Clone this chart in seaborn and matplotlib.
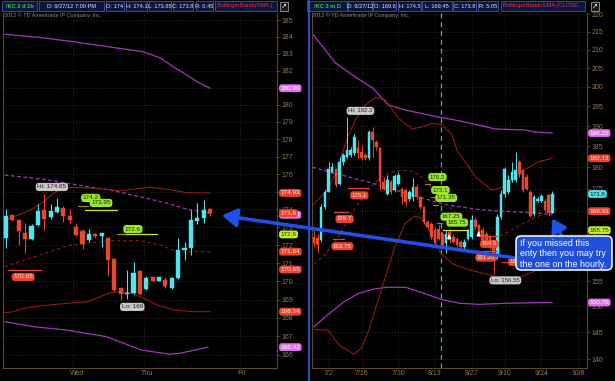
import matplotlib
matplotlib.use("Agg")
import matplotlib.pyplot as plt
import matplotlib.ticker as mticker
from matplotlib.patches import Rectangle, FancyBboxPatch, FancyArrowPatch
from matplotlib.lines import Line2D
from matplotlib.transforms import blended_transform_factory, offset_copy
import numpy as np
import pandas as pd
import seaborn as sns

# ======================= DATA =======================
# ---- hourly panel (/KC 2 d 1h) ----
h_open  = [172.42, 173.67, 173.41, 172.66, 172.32, 173.11, 173.96, 173.59, 173.85, 174.06, 173.63,
           173.03, 172.79, 172.27, 172.60, 172.51, 172.38, 171.24, 169.64, 169.28, 169.34, 170.55,
           169.58, 170.23, 170.03, 170.08, 169.62, 170.18, 171.76, 171.82, 173.35, 173.50, 174.00]
h_high  = [174.00, 173.75, 173.48, 173.22, 173.16, 174.30, 174.85, 174.28, 174.65, 174.19, 174.00,
           173.26, 172.92, 172.92, 172.70, 172.66, 172.45, 171.24, 169.71, 170.60, 171.06, 170.60,
           170.27, 170.31, 170.23, 170.23, 170.23, 172.42, 172.17, 173.95, 174.37, 174.52, 174.10]
h_low   = [171.86, 173.35, 171.99, 171.58, 172.28, 173.07, 172.85, 173.44, 173.81, 173.29, 173.26,
           172.51, 171.80, 172.17, 172.42, 171.91, 170.31, 169.49, 169.00, 169.05, 169.30, 169.25,
           169.53, 169.97, 170.00, 169.62, 169.58, 170.12, 171.20, 171.48, 173.16, 173.26, 173.65]
h_close = [173.63, 173.41, 172.79, 172.32, 173.07, 173.89, 173.44, 173.89, 174.13, 173.63, 173.41,
           172.55, 172.04, 172.60, 172.51, 172.66, 171.17, 169.53, 169.28, 169.34, 170.46, 169.28,
           170.18, 170.03, 170.23, 169.77, 170.18, 171.76, 171.86, 173.39, 173.52, 173.95, 173.80]
h_day_labels = ["Wed", "Thu", "Fri"]
h_day_pos = [11.1, 22.1, 37.0]
h_grid_pos = [10.5, 21.6, 36.7]
h_yticks = list(range(166, 186))

h_up_x  = [-0.2, 1.15, 2.7, 4.3, 5.9, 7.4, 8.7, 10.6, 13.7, 15.8, 17.9, 20.0, 22.6, 25.2, 28.4, 32.0]
h_up_y  = [173.41, 173.59, 173.78, 174.07, 174.44, 174.91, 175.16, 175.25, 175.20, 175.14, 175.05,
           175.16, 175.25, 175.14, 174.95, 174.93]
h_mid_x = [-0.2, 2.2, 4.3, 6.9, 9.5, 12.7, 16.3, 21.0, 24.2, 26.8, 32.0]
h_mid_y = [170.80, 171.09, 171.33, 171.64, 171.96, 172.11, 172.24, 172.26, 172.01, 171.64, 171.64]
h_low_x = [-0.2, 1.15, 2.7, 6.9, 11.1, 12.9, 14.8, 16.3, 17.9, 20.0, 21.6, 23.7, 26.3, 29.4, 32.0]
h_low_y = [168.28, 168.34, 168.53, 168.71, 168.84, 168.89, 169.16, 169.38, 169.43, 169.31, 169.07,
           168.71, 168.43, 168.34, 168.34]
h_pu_x  = [-0.2, 5.3, 10.5, 16.3, 21.5, 24.2, 26.2, 28.1, 30.0, 32.0]
h_pu_y  = [184.15, 183.96, 183.71, 183.39, 183.11, 182.74, 182.23, 181.80, 181.34, 180.96]
h_pm_x  = [-0.2, 5.8, 9.6, 16.8, 21.0, 25.3, 28.4, 32.0]
h_pm_y  = [175.95, 175.71, 175.48, 175.06, 174.72, 174.35, 174.01, 173.79]
h_pl_x  = [-0.2, 4.2, 9.3, 15.7, 21.2, 25.6, 27.3, 31.7]
h_pl_y  = [167.80, 167.53, 167.35, 166.99, 166.27, 166.04, 166.09, 166.42]

h_lvl_price = [170.65, 174.2, 173.95, 172.6, 172.6]
h_lvl_x0    = [0.3, 11.3, 12.4, 18.0, 17.4]
h_lvl_x1    = [5.5, 12.9, 17.4, 23.7, 18.7]
h_lvl_kind  = ["red", "olive", "yellow", "yellow", "olive"]

h_bub_text  = ["Hi: 174.85", "174.2", "173.95", "172.6", "170.65", "Lo: 169"]
h_bub_x     = [7.2, 13.3, 14.9, 19.9, 2.7, 19.8]
h_bub_y     = [175.27, 174.65, 174.37, 172.9, 170.24, 168.6]
h_bub_kind  = ["gray", "green", "green", "green", "red", "gray"]

h_tag_text  = ["180.96", "174.93", "173.79", "173.8", "172.6", "171.64", "170.65", "168.34", "166.42"]
h_tag_price = [180.96, 174.93, 173.70, 173.8, 172.6, 171.64, 170.65, 168.34, 166.42]
h_tag_kind  = ["pink", "red", "pink", "red", "lime", "red", "red", "red", "pink"]

# ---- daily panel (/KC 3 m D) ----
d_first = -4
d_open  = [164.3, 164.0, 163.6, 170.8, 174.2, 179.0, 179.7, 176.2, 181.3, 182.5, 182.9, 183.3, 184.5,
           183.7, 182.9, 182.1, 188.5, 186.1, 184.5, 176.6, 173.9, 176.6, 174.6, 176.2, 175.0, 174.6,
           172.7, 173.1, 175.4, 173.1, 170.8, 167.5, 167.2, 165.7, 166.1, 165.0, 162.9, 165.4, 164.3,
           163.9, 163.2, 162.2, 163.9, 164.3, 167.9, 166.8, 165.7, 165.0, 164.3, 162.2, 160.1, 168.6,
           173.9, 174.2, 177.0, 177.0, 181.3, 179.3, 177.7, 174.2, 169.3, 172.3, 172.3, 172.3, 173.5, 169.6]
d_high  = [165.7, 165.0, 171.6, 174.6, 181.3, 180.9, 179.7, 182.5, 183.3, 192.2, 184.9, 188.1, 186.5,
           185.3, 183.3, 188.9, 189.7, 186.5, 184.9, 177.7, 178.1, 177.0, 178.5, 178.9, 175.4, 175.0,
           174.6, 177.5, 176.2, 173.5, 171.2, 167.9, 167.5, 166.4, 166.8, 165.4, 165.7, 166.1, 165.0,
           164.3, 163.6, 163.9, 166.1, 169.0, 168.6, 167.2, 166.4, 165.4, 164.6, 162.5, 169.3, 174.6,
           180.1, 178.1, 181.3, 183.7, 181.7, 179.7, 178.5, 174.6, 173.5, 173.1, 173.9, 172.7, 173.9, 174.5]
d_low   = [162.2, 160.8, 163.2, 170.5, 174.2, 178.7, 175.4, 175.8, 180.5, 182.1, 182.5, 182.9, 182.1,
           181.7, 181.7, 181.7, 182.5, 184.1, 174.6, 174.6, 173.5, 173.9, 174.2, 175.8, 171.6, 171.2,
           172.3, 172.3, 172.7, 170.5, 167.2, 166.1, 163.9, 162.5, 163.6, 162.2, 160.8, 162.9, 162.9,
           162.2, 161.7, 161.8, 163.6, 163.9, 166.1, 164.6, 162.5, 163.2, 161.7, 156.55, 159.7, 168.2,
           173.1, 173.9, 176.6, 176.6, 177.7, 174.2, 174.6, 168.6, 168.9, 171.9, 171.9, 169.7, 168.9, 169.45]
d_close = [162.9, 162.5, 170.8, 174.2, 179.7, 180.1, 175.8, 181.3, 182.9, 184.1, 184.1, 187.3, 183.3,
           182.1, 182.1, 188.5, 186.5, 184.9, 176.6, 175.0, 177.0, 174.2, 177.9, 178.1, 173.1, 171.9,
           174.2, 175.4, 173.1, 170.8, 167.5, 166.4, 164.3, 162.9, 163.9, 162.5, 165.0, 163.6, 163.2,
           162.5, 162.1, 163.2, 165.7, 167.9, 166.4, 165.0, 162.9, 163.6, 162.2, 159.4, 168.6, 173.9,
           179.7, 177.0, 178.9, 179.3, 178.5, 174.6, 175.0, 168.9, 173.1, 172.7, 173.3, 170.1, 169.6, 173.8]
d_tick_labels = ["7/2", "7/16", "7/30", "8/13", "8/27", "9/10", "9/24", "10/8"]
d_tick_pos = [0, 9, 19, 29, 39, 48, 58, 68]
d_yticks = list(range(140, 221, 5))
d_marker_x = 30.6

d_up_x  = [-4, 0, 2.5, 5.1, 7.3, 10.1, 12.8, 15.5, 19.1, 22.8, 25.5, 28.2, 30.9, 33.7, 35, 40, 44.5,
           48.2, 52.7, 57.2, 61]
d_up_y  = [171.5, 175.0, 180.0, 187.0, 191.5, 195.3, 197.3, 196.6, 191.9, 189.3, 189.8, 190.7, 190.3,
           187.8, 184.1, 177.8, 174.7, 175.5, 179.0, 181.3, 182.13]
d_mid_x = [-4, -1, 2, 5, 8, 11, 14, 17, 20, 23, 26, 29, 32, 35, 38, 41, 44, 47, 50, 53, 56, 59, 61]
d_mid_y = [158.5, 160.5, 163.5, 167.5, 171.5, 175.0, 177.5, 178.8, 179.3, 179.0, 177.3, 174.5, 171.7,
           169.0, 166.8, 165.2, 164.2, 164.6, 165.8, 167.2, 168.4, 169.4, 169.93]
d_low_x = [-4, -0.2, 3, 7, 9, 11, 13, 15.5, 18, 20.9, 23.5, 25, 27, 30.5, 34, 38.6, 44, 48, 52, 56.8, 61]
d_low_y = [145.5, 145.4, 142.5, 140.9, 142.0, 145.4, 150.0, 155.9, 162.0, 167.2, 168.8, 168.5, 166.5,
           160.9, 158.5, 157.3, 156.3, 155.5, 155.8, 157.3, 158.5]
d_pu_x  = [-4.1, 1.9, 7.3, 12.0, 16.3, 20.9, 29.9, 34.5, 40.8, 45.4, 53.6, 56.3, 61]
d_pu_y  = [214.07, 206.36, 202.61, 199.71, 195.31, 194.03, 192.26, 191.5, 190.25, 189.26, 189.01,
           188.52, 188.25]
d_pm_x  = [-4.4, 11.9, 20.9, 31.8, 40.9, 48.2, 57.2, 61]
d_pm_y  = [180.0, 176.3, 174.0, 171.4, 170.3, 169.9, 169.5, 169.2]
d_pl_x  = [-4, 0, 4, 8, 12, 16, 21, 26, 31, 36, 41, 48, 55, 61]
d_pl_y  = [146.0, 148.5, 150.8, 152.5, 153.4, 153.8, 153.8, 152.6, 151.3, 150.6, 150.4, 150.6,
           150.7, 150.76]

d_lvl_price = [175.1, 169.7, 163.75, 176.2, 173.1, 171.35, 167.25, 165.75, 164.5, 161.25, 158.9]
d_lvl_x0    = [5.4, 1.4, 1.1, 26.4, 28.0, 28.6, 29.7, 31.3, 40.8, 40.3, 47.3]
d_lvl_x1    = [10.9, 5.4, 4.1, 27.7, 29.5, 29.8, 31.0, 38.1, 46.0, 46.0, 52.7]
d_lvl_kind  = ["red", "red", "red", "olive", "olive", "olive", "olive", "yellow", "red", "red", "red"]

d_bub_text = ["Hi: 192.2", "175.1", "169.7", "163.75", "176.2", "173.1", "171.35", "167.25",
              "165.75", "164.5", "161.25", "158.9", "Lo: 156.55"]
d_bub_x    = [8.7, 8.4, 4.4, 3.8, 29.7, 30.5, 32.1, 33.5, 35.1, 43.8, 43.0, 51.4, 48.2]
d_bub_y    = [193.8, 173.5, 168.2, 162.3, 177.7, 174.7, 172.9, 168.7, 167.4, 162.8, 159.9, 159.0, 155.2]
d_bub_kind = ["gray", "red", "red", "red", "green", "green", "green", "green", "green", "red", "red",
              "red", "gray"]

d_sig_x = [32.9, 40.9]
d_sig_y = [164.0, 164.6]

d_tag_text  = ["188.25", "182.13", "173.8", "169.93", "165.75", "158.5", "150.76"]
d_tag_price = [188.25, 182.13, 173.8, 169.93, 165.75, 158.5, 150.76]
d_tag_kind  = ["pink", "red", "cyan", "red", "lime", "red", "pink"]

hdr_left_text = ["/KC 2 d 1h", "D: 9/27/12 7:00 PM", "O: 174", "H: 174.1", "L: 173.65", "C: 173.8",
                 "R: 0.45", "BollingerBandsSMA ("]
hdr_right_text = ["/KC 3 m D", "D: 9/27/12", "O: 169.6", "H: 174.5", "L: 169.45", "C: 173.8",
                  "R: 5.05", "BollingerBandsSMA (CLOSE,"]
copyright_text = "2012 \u00a9 TD Ameritrade IP Company, Inc."
callout_lines = ["If you missed this", "enty then you may try", "the one on the hourly."]

# ======================= STYLE =======================
sns.set_theme(style="dark")
plt.rcParams["font.family"] = ["Liberation Sans", "DejaVu Sans"]

CYAN = "#4fe4ee"
RED = "#e8472b"
BB = "#8e1d10"
PURPLE = "#a436bd"
AXIS = "#5e4826"
TICKTXT = "#9a7a4e"
GRID = "#3b3122"
BUB = {"gray": ("#c8c8c8", "#222222"), "green": ("#9be52c", "#14300a"), "red": ("#e8442e", "#ffe8e0")}
TAG = {"pink": ("#e070ee", "#ffffff"), "red": ("#e8432e", "#ffe6e0"), "lime": ("#c4ec22", "#1a2a00"),
       "cyan": ("#4fe0ea", "#0a2a30")}
LVL = {"red": "#e8432e", "olive": "#8c8c14", "yellow": "#d8e41e"}

W, H = 615, 381
fig = plt.figure(figsize=(W / 100, H / 100), dpi=100, facecolor="black")


def px(x, y):
    return (x / 100.0, (H - y) / 100.0)


axL = fig.add_axes([3 / W, 13 / H, 274 / W, 355 / H])
axR = fig.add_axes([312 / W, 13 / H, 275 / W, 355 / H])


def candles(ax, x, o, h, l, c, width, lw):
    o, h, l, c = map(np.asarray, (o, h, l, c))
    cols = np.where(c >= o, CYAN, RED)
    ax.vlines(x, l, h, colors=cols, lw=lw, zorder=4)
    bottom = np.minimum(o, c)
    height = np.maximum(np.abs(c - o), 0.06)
    ax.bar(x, height, width, bottom=bottom, color=cols, edgecolor=cols, linewidth=0.3, zorder=5)


def band(ax, xs, ys, color, ls="-", lw=0.8, z=3):
    df = pd.DataFrame({"x": xs, "y": ys})
    sns.lineplot(data=df, x="x", y="y", ax=ax, color=color, linewidth=lw, linestyle=ls,
                 sort=False, zorder=z, legend=False)


def style_axis(ax, yticks, xlim, ylim, xtpos, xtlab, gridx):
    ax.set_facecolor("black")
    ax.set_yscale("log")
    ax.set_xlim(*xlim)
    ax.set_ylim(*ylim)
    ax.yaxis.set_major_locator(mticker.FixedLocator(yticks))
    ax.yaxis.set_major_formatter(mticker.FixedFormatter([str(t) for t in yticks]))
    ax.yaxis.set_minor_locator(mticker.NullLocator())
    ax.yaxis.tick_right()
    ax.tick_params(axis="y", which="major", direction="out", length=2, width=0.6, color=AXIS,
                   labelcolor=TICKTXT, labelsize=5, pad=1.5)
    ax.set_xticks(xtpos)
    ax.set_xticklabels(xtlab)
    ax.tick_params(axis="x", length=0, labelcolor=TICKTXT, labelsize=5, pad=1.2)
    ax.xaxis.label.set_visible(False)
    ax.yaxis.label.set_visible(False)
    ax.grid(False)
    for t in yticks:
        ax.axhline(t, color=GRID, lw=0.6, ls=(0, (1, 2)), zorder=1)
    for g in gridx:
        ax.axvline(g, color=GRID, lw=0.6, ls=(0, (1, 2)), zorder=1)
    for s in ["left", "right", "bottom"]:
        ax.spines[s].set_visible(True)
        ax.spines[s].set_color(AXIS)
        ax.spines[s].set_linewidth(0.8)
    ax.spines["top"].set_visible(False)


def level_lines(ax, prices, x0s, x1s, kinds):
    for p, a, b, k in zip(prices, x0s, x1s, kinds):
        ax.plot([a, b], [p, p], color=LVL[k], lw=0.9, zorder=6)


def bubbles(ax, texts, xs, ys, kinds, fs=4.6):
    for t, x, y, k in zip(texts, xs, ys, kinds):
        fc, tc = BUB[k]
        ax.text(x, y, t, ha="center", va="center", fontsize=fs, color=tc, zorder=8,
                bbox=dict(boxstyle="round,pad=0.25,rounding_size=0.5", fc=fc, ec="none"))


def tags(ax, texts, prices, kinds, dx):
    tr = offset_copy(blended_transform_factory(ax.transAxes, ax.transData), fig=fig, x=dx, y=0,
                     units="dots")
    for t, p, k in zip(texts, prices, kinds):
        fc, tc = TAG[k]
        ax.text(1.0, p, t, transform=tr, ha="left", va="center", fontsize=4.6, color=tc,
                zorder=10, clip_on=False,
                bbox=dict(boxstyle="round,pad=0.22,rounding_size=0.4", fc=fc, ec="none"))


# ---------------- left (hourly) panel ----------------
hx = np.arange(len(h_open))
style_axis(axL, h_yticks, (-0.47, 42.5), (165.30, 185.42), h_day_pos, h_day_labels, h_grid_pos)
band(axL, h_pu_x, h_pu_y, PURPLE, lw=0.9)
band(axL, h_pm_x, h_pm_y, PURPLE, ls=(0, (3, 2)), lw=0.9)
band(axL, h_pl_x, h_pl_y, PURPLE, lw=0.9)
band(axL, h_up_x, h_up_y, BB)
band(axL, h_mid_x, h_mid_y, BB, ls=(0, (3, 2.5)))
band(axL, h_low_x, h_low_y, BB)
candles(axL, hx, h_open, h_high, h_low, h_close, 0.64, 0.8)
level_lines(axL, h_lvl_price, h_lvl_x0, h_lvl_x1, h_lvl_kind)
bubbles(axL, h_bub_text, h_bub_x, h_bub_y, h_bub_kind)
tags(axL, h_tag_text, h_tag_price, h_tag_kind, 3.5)
axL.set_xlim(-0.47, 42.5)
axL.set_ylim(165.30, 185.42)
axL.xaxis.label.set_visible(False)
axL.yaxis.label.set_visible(False)

# ---------------- right (daily) panel ----------------
dx_ = np.arange(d_first, d_first + len(d_open))
style_axis(axR, d_yticks, (-4.5, 70.46), (138.36, 220.33), d_tick_pos, d_tick_labels, d_tick_pos)
axR.axvline(d_marker_x, color="#3ab4bc", lw=0.9, ls=(0, (4, 3)), zorder=2)
band(axR, d_pu_x, d_pu_y, PURPLE, lw=0.9)
band(axR, d_pm_x, d_pm_y, PURPLE, ls=(0, (3, 2)), lw=0.9)
band(axR, d_pl_x, d_pl_y, PURPLE, lw=0.9)
band(axR, d_up_x, d_up_y, BB)
band(axR, d_mid_x, d_mid_y, BB, ls=(0, (3, 2.5)))
band(axR, d_low_x, d_low_y, BB)
candles(axR, dx_, d_open, d_high, d_low, d_close, 0.72, 0.7)
level_lines(axR, d_lvl_price, d_lvl_x0, d_lvl_x1, d_lvl_kind)
bubbles(axR, d_bub_text, d_bub_x, d_bub_y, d_bub_kind, fs=4.4)
for sx, sy in zip(d_sig_x, d_sig_y):
    axR.annotate("", xy=(sx, sy * 1.009), xytext=(sx, sy),
                 arrowprops=dict(arrowstyle="-|>", color="white", lw=1.0, mutation_scale=5),
                 zorder=9)
tags(axR, d_tag_text, d_tag_price, d_tag_kind, 2.5)
axR.set_xlim(-4.5, 70.46)
axR.set_ylim(138.36, 220.33)
axR.xaxis.label.set_visible(False)
axR.yaxis.label.set_visible(False)

# ---------------- header bars ----------------
hdr_left_pos = [(2, 37), (39, 104), (106, 124), (126, 147), (149, 171), (173, 193), (196, 213), (215, 277)]
hdr_right_pos = [(307, 347), (348, 372), (373, 396), (398, 421), (422, 452), (453, 476), (478, 498), (501, 585)]
for texts, poss in ((hdr_left_text, hdr_left_pos), (hdr_right_text, hdr_right_pos)):
    n = len(texts)
    for i, (t, (x0, x1)) in enumerate(zip(texts, poss)):
        fig.add_artist(Rectangle(px(x0, 10.5), (x1 - x0) / 100, 9.5 / 100, transform=fig.dpi_scale_trans,
                                 fc="#0b1640", ec="#44569c", lw=0.6, zorder=2))
        col = "#3fcf3f" if i == 0 else ("#e8322a" if i == n - 1 else "#e8e8ee")
        if i == n - 1:
            fig.text(*px(x0 + 2, 6), t, transform=fig.dpi_scale_trans, ha="left", va="center",
                     fontsize=4.2, color=col, zorder=3)
        else:
            fig.text(*px((x0 + x1) / 2, 6), t, transform=fig.dpi_scale_trans, ha="center", va="center",
                     fontsize=4.1, color=col, zorder=3, fontweight="bold" if i == 0 else "normal")
for ix in (280, 591):
    fig.add_artist(Rectangle(px(ix, 10.5), 8 / 100, 9 / 100, transform=fig.dpi_scale_trans,
                             fc="#1a1a1a", ec="#9a9a9a", lw=0.6, zorder=2))
    fig.text(*px(ix + 4, 6), "\u2197", transform=fig.dpi_scale_trans, ha="center", va="center",
             fontsize=5, color="white", zorder=3, family="DejaVu Sans")
fig.text(*px(4, 15), copyright_text, transform=fig.dpi_scale_trans, ha="left", va="center",
         fontsize=4.0, color="#8a8a8a", zorder=3)
fig.text(*px(312, 15), copyright_text, transform=fig.dpi_scale_trans, ha="left", va="center",
         fontsize=4.0, color="#8a8a8a", zorder=3)

# divider between panels
fig.add_artist(Line2D([3.09, 3.09], [0, H / 100], transform=fig.dpi_scale_trans, color="#2063d0",
                      lw=1.3, zorder=2))

# ---------------- callout + arrows ----------------
fig.add_artist(FancyArrowPatch(px(516, 258), px(219, 215), transform=fig.dpi_scale_trans,
                               arrowstyle="-|>,head_length=0.9,head_width=0.55", mutation_scale=10,
                               lw=2.6, color="#1f50e8", zorder=4))
fig.add_artist(FancyArrowPatch(px(563, 238), px(551, 216), transform=fig.dpi_scale_trans,
                               arrowstyle="-|>,head_length=0.8,head_width=0.5", mutation_scale=10,
                               lw=2.4, color="#1f50e8", zorder=4))
bx0, by0 = px(516, 270)
fig.add_artist(FancyBboxPatch((bx0, by0), 96 / 100, 34 / 100, transform=fig.dpi_scale_trans,
                              boxstyle="round,pad=0,rounding_size=0.05", fc="#1f4fd6", ec="white",
                              lw=1.1, zorder=5))
for k, line in enumerate(callout_lines):
    fig.text(*px(520, 243.5 + 10.5 * k), line, transform=fig.dpi_scale_trans, ha="left", va="center",
             fontsize=6.4, color="white", zorder=6)

fig.savefig("out.png", dpi=100, facecolor="black")
